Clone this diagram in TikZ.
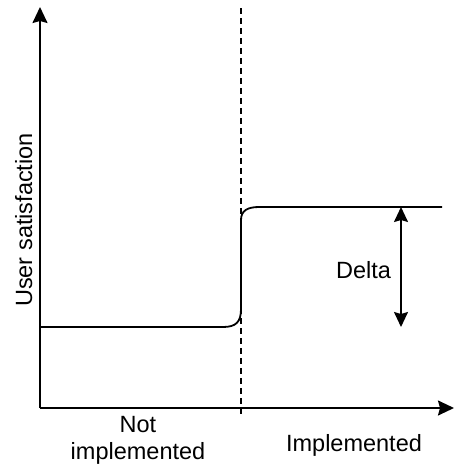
\documentclass[tikz,border=0pt]{standalone}
\usepackage{fontspec}
\setmainfont{Liberation Sans}
\usetikzlibrary{arrows.meta}
\begin{document}
\begin{tikzpicture}[x=1pt,y=-1pt,
  axis/.style={line width=1.8pt,-{Stealth[length=16pt,width=15pt,inset=2pt]}},
  level/.style={line width=1.8pt},
  divider/.style={line width=1.3pt,dash pattern=on 6pt off 4pt},
  span/.style={line width=1.6pt,{Stealth[length=15pt,width=14pt,inset=2pt]}-{Stealth[length=15pt,width=14pt,inset=2pt]}},
  lbl/.style={font=\fontsize{23.5}{27}\selectfont,inner sep=0pt,anchor=base}]
\useasboundingbox (0,0) rectangle (455,466);
% axes
\coordinate (O) at (40,408);
\coordinate (ytop) at (40,7);
\coordinate (xend) at (454,408);
\draw[axis] (O) -- (ytop);
\draw[axis] (O) -- (xend);
% divider between the two states
\coordinate (dtop) at (241,8);
\coordinate (dbot) at (241,416);
\draw[divider] (dtop) -- (dbot);
% satisfaction step
\coordinate (s0) at (40,327);
\coordinate (s1) at (223,327);
\coordinate (s2) at (241,309);
\coordinate (s3) at (241,220);
\coordinate (s4) at (259,207);
\coordinate (s5) at (442,207);
\draw[level] (s0) -- (s1) .. controls (236,327) and (241,322) .. (s2)
  -- (s3) .. controls (241,211) and (247,207) .. (s4) -- (s5);
% delta span
\coordinate (ta) at (401,207);
\coordinate (tb) at (401,327);
\draw[span] (ta) -- (tb);
\node[lbl] (delta) at (363.5,278) {Delta};
% labels
\node[lbl,rotate=90] (ylab) at (32,220) {User satisfaction};
\node[lbl] (not1) at (138,432) {Not};
\node[lbl] (not2) at (138,459) {implemented};
\node[lbl] (impl) at (354,451) {Implemented};
\end{tikzpicture}
\end{document}
